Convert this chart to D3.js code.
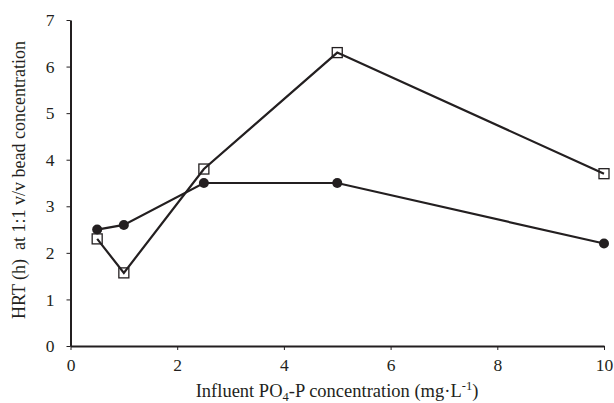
<!DOCTYPE html>
<html>
<head>
<meta charset="utf-8">
<script src="https://cdn.jsdelivr.net/npm/d3@7"></script>
<style>
  body { margin: 0; background: #fff; }
  text { font-family: "Liberation Serif", "Times New Roman", serif; fill: #231f20; }
</style>
</head>
<body>
<div id="chart"></div>
<script>
// data
var xVals = [0.5, 1, 2.5, 5, 10];
var circleVals = [2.5, 2.6, 3.5, 3.5, 2.2];
var squareVals = [2.3, 1.57, 3.8, 6.3, 3.7];
var xTicks = [0, 2, 4, 6, 8, 10];
var yTicks = [0, 1, 2, 3, 4, 5, 6, 7];

var width = 614, height = 403;
var plotLeft = 70.5, plotRight = 604, plotTop = 20, plotBottom = 346;
var ink = "#231f20";

var svg = d3.select("#chart").append("svg")
    .attr("width", width)
    .attr("height", height);

var xScale = d3.scaleLinear().domain([0, 10]).range([plotLeft, plotRight]);
var yScale = d3.scaleLinear().domain([0, 7]).range([plotBottom, plotTop]);

var xAxis = svg.append("g")
    .attr("transform", "translate(0," + plotBottom + ")")
    .call(d3.axisBottom(xScale).tickValues(xTicks).tickFormat(d3.format("d"))
        .tickSize(4).tickPadding(9).tickSizeOuter(0));
var yAxis = svg.append("g")
    .attr("transform", "translate(" + plotLeft + ",0)")
    .call(d3.axisLeft(yScale).tickValues(yTicks).tickFormat(d3.format("d"))
        .tickSize(4).tickPadding(12).tickSizeOuter(0));

[xAxis, yAxis].forEach(function(ax) {
    ax.attr("font-family", "Liberation Serif, serif").attr("font-size", 17.5);
    ax.select(".domain").attr("stroke", ink).attr("stroke-width", 2);
    ax.selectAll(".tick line").attr("stroke", ink).attr("stroke-width", 1);
    ax.selectAll(".tick text").attr("fill", ink);
});

// axis titles
svg.append("text")
    .attr("x", 337)
    .attr("y", 397)
    .attr("text-anchor", "middle")
    .attr("font-size", 18.5)
    .html('Influent PO<tspan font-size="12.5" dy="4">4</tspan><tspan dy="-4">-P concentration (mg·L</tspan><tspan font-size="12.5" dy="-7">-1</tspan><tspan dy="7">)</tspan>');

svg.append("text")
    .attr("transform", "translate(25,180)rotate(-90)")
    .attr("text-anchor", "middle")
    .attr("font-size", 18)
    .style("white-space", "pre")
    .text("HRT (h)  at 1:1 v/v bead concentration");

var line = d3.line()
    .x(function(d) { return xScale(d[0]); })
    .y(function(d) { return yScale(d[1]); });

var circleData = xVals.map(function(x, i) { return [x, circleVals[i]]; });
var squareData = xVals.map(function(x, i) { return [x, squareVals[i]]; });

// hollow squares sit under the line, so the line shows through them
var sq = 10;
svg.selectAll(".sq")
    .data(squareData)
    .enter().append("rect")
    .attr("x", function(d) { return xScale(d[0]) - sq / 2; })
    .attr("y", function(d) { return yScale(d[1]) - sq / 2; })
    .attr("width", sq)
    .attr("height", sq)
    .attr("fill", "#fff")
    .attr("stroke", ink)
    .attr("stroke-width", 1.3);

svg.append("path")
    .datum(circleData)
    .attr("d", line)
    .attr("fill", "none")
    .attr("stroke", ink)
    .attr("stroke-width", 2.2);

svg.append("path")
    .datum(squareData)
    .attr("d", line)
    .attr("fill", "none")
    .attr("stroke", ink)
    .attr("stroke-width", 2.2);

svg.selectAll(".dot")
    .data(circleData)
    .enter().append("circle")
    .attr("cx", function(d) { return xScale(d[0]); })
    .attr("cy", function(d) { return yScale(d[1]); })
    .attr("r", 5)
    .attr("fill", ink);
</script>
</body>
</html>
